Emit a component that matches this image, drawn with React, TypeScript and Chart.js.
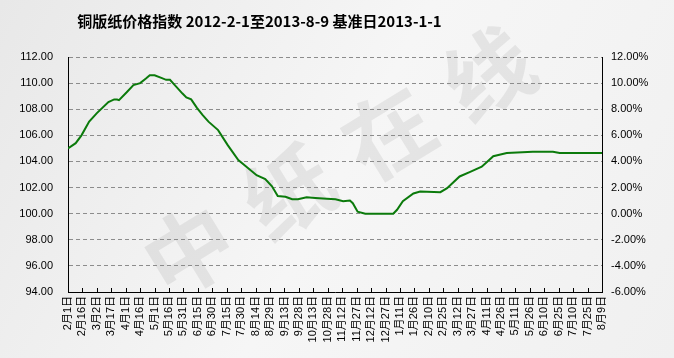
import React, { useEffect, useRef } from "react";
import { Chart, registerables } from "chart.js";

Chart.register(...registerables);

const TITLE = "铜版纸价格指数 2012-2-1至2013-8-9 基准日2013-1-1";
const WATERMARK = ["中", "纸", "在", "线"];

// x tick labels every 15 days from 2012-2-1
const tickLabels = [
  "2月1日", "2月16日", "3月2日", "3月17日", "4月1日", "4月16日", "5月1日", "5月16日",
  "5月31日", "6月15日", "6月30日", "7月15日", "7月30日", "8月14日", "8月29日", "9月13日",
  "9月28日", "10月13日", "10月28日", "11月12日", "11月27日", "12月12日", "12月27日", "1月11日",
  "1月26日", "2月10日", "2月25日", "3月12日", "3月27日", "4月11日", "4月26日", "5月11日",
  "5月26日", "6月10日", "6月25日", "7月10日", "7月25日", "8月9日",
];
const TICK_STEP = 15;
const LAST_DAY = 555;

// days since 2012-2-1
const days = [
  0, 8, 14, 22, 30, 42, 48, 51, 53, 61, 68, 75, 81, 85, 90, 97, 102, 106, 111, 119,
  123, 128, 134, 140, 146, 156, 166, 177, 187, 196, 205, 212, 218, 226, 233, 239, 248, 257,
  269, 278, 286, 293, 296, 301, 309, 338, 342, 348, 359, 366, 387, 394, 407, 418, 430, 436,
  442, 456, 483, 504, 511, 555,
];
// index values
const indexValues = [
  105.0, 105.4, 106.0, 107.05, 107.7, 108.55, 108.75, 108.75, 108.7, 109.3, 109.85, 110.0,
  110.35, 110.6, 110.6, 110.4, 110.25, 110.25, 109.85, 109.2, 108.9, 108.75, 108.1, 107.55,
  107.05, 106.4, 105.25, 104.1, 103.5, 102.95, 102.65, 102.1, 101.35, 101.3, 101.1, 101.1,
  101.25, 101.2, 101.15, 101.1, 100.95, 101.0, 100.8, 100.15, 100.0, 100.0, 100.3, 100.95,
  101.55, 101.7, 101.65, 101.95, 102.85, 103.2, 103.6, 104.0, 104.4, 104.65, 104.75, 104.75,
  104.65, 104.65,
];

const LEFT_MIN = 94;
const LEFT_MAX = 112;
const RIGHT_MIN = -6;
const RIGHT_MAX = 12;

const TICK_FONT = "'Liberation Sans', 'Noto Sans CJK SC', sans-serif";

const backgroundPlugin = {
  id: "bgWatermark",
  beforeDraw(chart: any) {
    const { ctx, width, height } = chart;
    ctx.save();
    const g = ctx.createLinearGradient(0, 0, width, height);
    g.addColorStop(0, "#e8e8e8");
    g.addColorStop(0.5, "#f6f6f6");
    g.addColorStop(1, "#f0f0f0");
    ctx.fillStyle = g;
    ctx.fillRect(0, 0, width, height);
    ctx.fillStyle = "rgba(0,0,0,0.065)";
    ctx.font = "bold 88px 'Noto Sans CJK SC'";
    ctx.textAlign = "center";
    ctx.textBaseline = "middle";
    const sx = width * 0.28;
    const sy = height * 0.70;
    const stepX = width * 0.148;
    const stepY = -height * 0.165;
    WATERMARK.forEach((ch, i) => {
      ctx.save();
      ctx.translate(sx + i * stepX, sy + i * stepY);
      ctx.rotate(-0.55);
      ctx.fillText(ch, 0, 0);
      ctx.restore();
    });
    ctx.restore();
  },
};

const titleAndTicksPlugin = {
  id: "titleAndTicks",
  afterDraw(chart: any) {
    const { ctx, chartArea, width } = chart;
    const xs = chart.scales.x;
    ctx.save();
    ctx.strokeStyle = "#000";
    ctx.lineWidth = 1;
    ctx.beginPath();
    xs.ticks.forEach((t: any) => {
      const px = Math.round(xs.getPixelForValue(t.value)) + 0.5;
      ctx.moveTo(px, chartArea.bottom);
      ctx.lineTo(px, chartArea.bottom - 4);
    });
    ctx.stroke();
    ctx.fillStyle = "#000";
    ctx.font = "bold 15px 'Noto Sans CJK SC', sans-serif";
    ctx.textAlign = "center";
    ctx.textBaseline = "middle";
    ctx.fillText(TITLE, width * 0.385, 21);
    ctx.restore();
  },
};

export default function App() {
  const ref = useRef<HTMLCanvasElement>(null);
  useEffect(() => {
    if (!ref.current) return;
    const chart = new Chart(ref.current, {
      type: "line",
      data: {
        datasets: [
          {
            data: days.map((d, i) => ({ x: d, y: indexValues[i] })),
            borderColor: "#0b7a0b",
            borderWidth: 2,
            pointRadius: 0,
            tension: 0,
            yAxisID: "y",
          },
        ],
      },
      options: {
        responsive: false,
        animation: false,
        devicePixelRatio: 1,
        layout: { padding: { top: 57, left: 0, right: 0, bottom: 0 } },
        plugins: {
          legend: { display: false },
          tooltip: { enabled: false },
          title: { display: false },
        },
        scales: {
          x: {
            type: "linear",
            min: 0,
            max: LAST_DAY,
            grid: { display: false, drawTicks: false },
            border: { display: true, color: "#000", width: 1 },
            ticks: {
              stepSize: TICK_STEP,
              autoSkip: false,
              maxRotation: 90,
              minRotation: 90,
              padding: 4,
              color: "#000",
              font: { family: TICK_FONT, size: 11 },
              callback: (v: any) => tickLabels[Math.round(Number(v) / TICK_STEP)] ?? "",
            },
            afterFit: (s: any) => {
              s.height = 66;
            },
          },
          y: {
            position: "left",
            min: LEFT_MIN,
            max: LEFT_MAX,
            grid: {
              drawTicks: false,
              color: (c: any) => (c.tick && c.tick.value === LEFT_MIN ? "rgba(0,0,0,0)" : "#8c8c8c"),
              lineWidth: 1,
            },
            border: { display: true, color: "#000", width: 1, dash: [4, 3] },
            ticks: {
              stepSize: 2,
              padding: 15,
              color: "#000",
              font: { family: TICK_FONT, size: 11 },
              callback: (v: any) => Number(v).toFixed(2),
            },
            afterFit: (s: any) => {
              s.width = 68;
            },
          },
          y1: {
            position: "right",
            min: RIGHT_MIN,
            max: RIGHT_MAX,
            grid: { drawOnChartArea: false, drawTicks: false },
            border: { display: true, color: "#000", width: 1 },
            ticks: {
              stepSize: 2,
              padding: 9,
              color: "#000",
              font: { family: TICK_FONT, size: 11 },
              callback: (v: any) => Number(v).toFixed(2) + "%",
            },
            afterFit: (s: any) => {
              s.width = 72;
            },
          },
        },
      },
      plugins: [backgroundPlugin, titleAndTicksPlugin],
    });
    return () => chart.destroy();
  }, []);
  return (
    <div style={{ position: "absolute", left: 0, top: 0, width: 674, height: 358 }}>
      <canvas ref={ref} width={674} height={358} style={{ width: 674, height: 358, display: "block" }} />
    </div>
  );
}
